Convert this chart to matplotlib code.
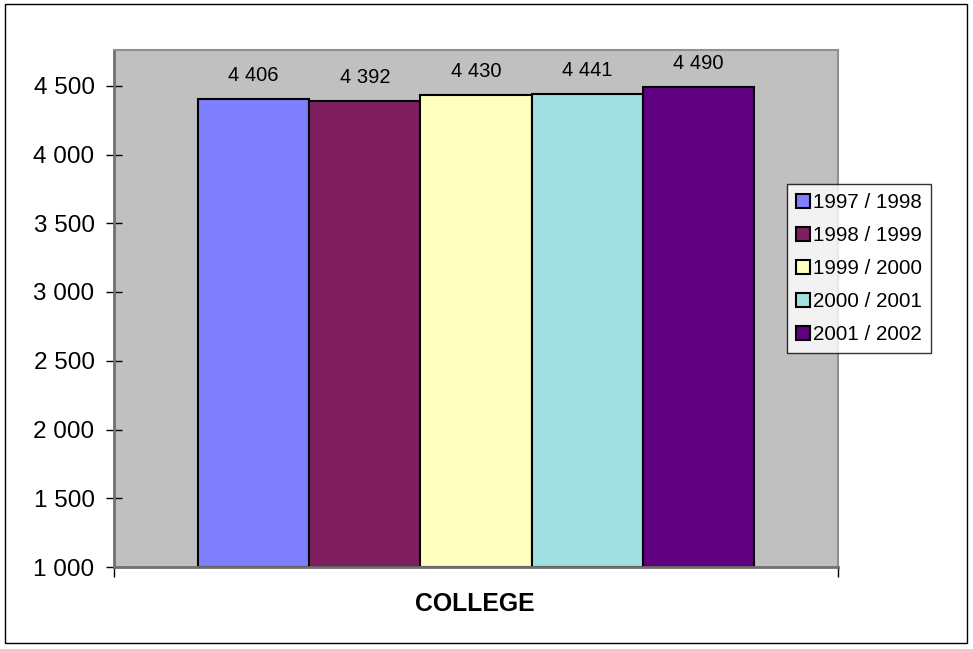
#!/usr/bin/env python3
"""College enrolment by school year, bar chart in the old spreadsheet style."""

import matplotlib
matplotlib.use('Agg')
import matplotlib.pyplot as plt
from matplotlib.patches import Rectangle
from matplotlib.ticker import FuncFormatter

# ---------------------------------------------------------------------
# DATA
# ---------------------------------------------------------------------

CATEGORY = "COLLEGE"
YEARS = ["1997 / 1998", "1998 / 1999", "1999 / 2000", "2000 / 2001", "2001 / 2002"]
VALUES = [4406, 4392, 4430, 4441, 4490]
COLORS = ["#8080FF", "#7F1F5F", "#FFFFC0", "#A0E0E0", "#600080"]

Y_MIN = 1000
Y_MAX = 4760
Y_TICKS = [1000, 1500, 2000, 2500, 3000, 3500, 4000, 4500]

plt.rcParams['font.family'] = ['Liberation Sans', 'DejaVu Sans']

W, H = 973, 649


def _space_thousands(v, _pos=None):
    return f"{int(round(v)):,}".replace(",", " ")


def main() -> None:
    fig = plt.figure(figsize=(W / 100, H / 100), dpi=100)

    # outer chart frame
    fig.patches.append(Rectangle((5 / W, 1 - 643 / H), 962 / W, 639 / H,
                                 transform=fig.transFigure, fill=False,
                                 edgecolor='black', linewidth=1.0))

    left, top, right, bottom = 114, 50, 838, 567
    ax = fig.add_axes([left / W, 1 - bottom / H, (right - left) / W, (bottom - top) / H])
    ax.set_facecolor('#C0C0C0')

    xs = list(range(len(VALUES)))
    heights = [v - Y_MIN for v in VALUES]
    bars = ax.bar(xs, heights, bottom=Y_MIN, width=1.0, color=COLORS,
                  edgecolor='black', linewidth=1.5, zorder=2)
    for b, lab in zip(bars, YEARS):
        b.set_label(lab)

    for b, v in zip(bars, VALUES):
        ax.annotate(_space_thousands(v), (b.get_x() + b.get_width() / 2, v),
                    xytext=(0, 10), textcoords='offset points',
                    ha='center', va='bottom', fontsize=14.5)

    gap = 84 / 111.2
    x0, x1 = -0.5 - gap, len(VALUES) - 0.5 + gap
    ax.set_xlim(x0, x1)
    ax.set_ylim(Y_MIN, Y_MAX)

    ax.set_yticks(Y_TICKS)
    ax.yaxis.set_major_formatter(FuncFormatter(_space_thousands))
    ax.tick_params(axis='y', direction='inout', length=12, width=1, pad=8,
                   labelsize=17.5)
    ax.set_xticks([x0, x1])
    ax.set_xticklabels(['', ''])
    ax.tick_params(axis='x', direction='out', length=7, width=1)

    for side in ('left', 'bottom'):
        ax.spines[side].set_color('#707070')
        ax.spines[side].set_linewidth(2.0)
    for side in ('top', 'right'):
        ax.spines[side].set_color('#909090')
        ax.spines[side].set_linewidth(1.5)

    fig.text(475 / W, 1 - 604 / H, CATEGORY, ha='center', va='center',
             fontsize=17.8, fontweight='bold')

    leg = ax.legend(loc='upper left', bbox_to_anchor=(787 / W, 1 - 184 / H),
                    bbox_transform=fig.transFigure, fontsize=14.8,
                    frameon=True, fancybox=False, shadow=False,
                    handlelength=0.65, handleheight=0.65, handletextpad=0.15,
                    labelspacing=0.68, borderpad=0.45, borderaxespad=0)
    leg.get_frame().set_edgecolor('black')
    leg.get_frame().set_linewidth(1.0)
    for p in leg.get_patches():
        p.set_linewidth(1.5)

    fig.savefig('out.png', dpi=100)
    plt.close(fig)


if __name__ == '__main__':
    main()
